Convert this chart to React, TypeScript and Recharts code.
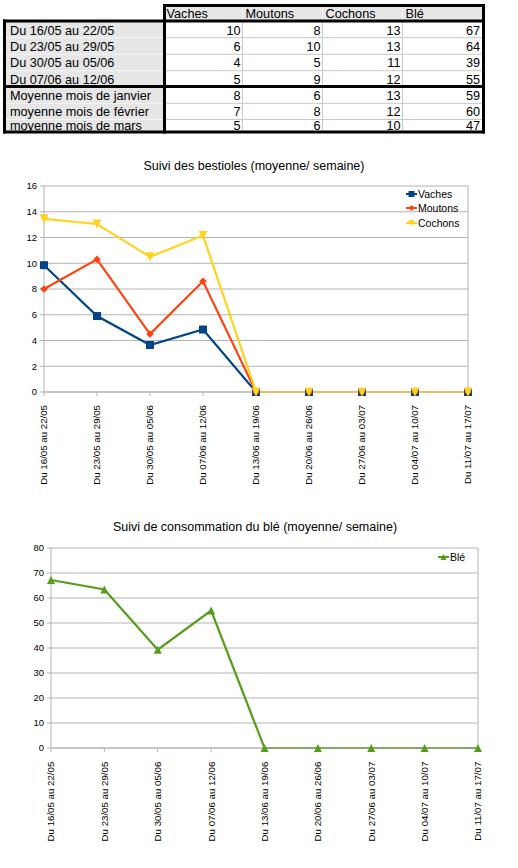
import React from "react";
import { LineChart, Line, XAxis, YAxis, CartesianGrid, Legend, ReferenceLine } from "recharts";

const FONT = '"Liberation Sans", Arial, sans-serif';

// ---- Table data ----
const rowLabels = [
  "Du 16/05 au 22/05",
  "Du 23/05 au 29/05",
  "Du 30/05 au 05/06",
  "Du 07/06 au 12/06",
  "Moyenne mois de janvier",
  "moyenne mois de février",
  "moyenne mois de mars",
];
const tableHeaders = ["Vaches", "Moutons", "Cochons", "Blé"];
const tableVaches = [10, 6, 4, 5, 8, 7, 5];
const tableMoutons = [8, 10, 5, 9, 6, 8, 6];
const tableCochons = [13, 13, 11, 12, 13, 12, 10];
const tableBle = [67, 64, 39, 55, 59, 60, 47];

// ---- Chart data ----
const weekLabels = [
  "Du 16/05 au 22/05",
  "Du 23/05 au 29/05",
  "Du 30/05 au 05/06",
  "Du 07/06 au 12/06",
  "Du 13/06 au 19/06",
  "Du 20/06 au 26/06",
  "Du 27/06 au 03/07",
  "Du 04/07 au 10/07",
  "Du 11/07 au 17/07",
];
const vachesSeries = [9.85, 5.9, 3.65, 4.85, 0, 0, 0, 0, 0];
const moutonsSeries = [8, 10.3, 4.5, 8.6, 0, 0, 0, 0, 0];
const cochonsSeries = [13.45, 13.05, 10.5, 12.15, 0, 0, 0, 0, 0];
const bleSeries = [67.2, 63.4, 39.3, 55, 0, 0, 0, 0, 0];
const animalTicks = [0, 2, 4, 6, 8, 10, 12, 14, 16];
const bleTicks = [0, 10, 20, 30, 40, 50, 60, 70, 80];

const animalData = weekLabels.map((w, i) => ({
  week: w,
  Vaches: vachesSeries[i],
  Moutons: moutonsSeries[i],
  Cochons: cochonsSeries[i],
}));
const bleData = weekLabels.map((w, i) => ({ week: w, "Blé": bleSeries[i] }));

const C_VACHES = "#004586";
const C_MOUTONS = "#ff420e";
const C_COCHONS = "#ffd320";
const C_BLE = "#579d1c";
const GRID = "#b3b3b3";

type Shape = "square" | "diamond" | "triDown" | "triUp";

function markerEl(shape: Shape, cx: number, cy: number, s: number, color: string) {
  switch (shape) {
    case "square":
      return <rect x={cx - s} y={cy - s} width={2 * s} height={2 * s} fill={color} />;
    case "diamond":
      return <polygon points={`${cx},${cy - s} ${cx + s},${cy} ${cx},${cy + s} ${cx - s},${cy}`} fill={color} />;
    case "triDown":
      return <polygon points={`${cx - s},${cy - s} ${cx + s},${cy - s} ${cx},${cy + s}`} fill={color} />;
    case "triUp":
    default:
      return <polygon points={`${cx - s},${cy + s} ${cx + s},${cy + s} ${cx},${cy - s}`} fill={color} />;
  }
}

const makeDot = (shape: Shape, s: number, color: string) => (props: any) => {
  const { cx, cy, index } = props;
  if (cx == null || cy == null) return <g key={`e-${index}`} />;
  return <g key={`d-${index}`}>{markerEl(shape, cx, cy, s, color)}</g>;
};

const XTick = (props: any) => {
  const { x, y, payload } = props;
  return (
    <text
      x={x}
      y={y}
      transform={`rotate(-90, ${x}, ${y})`}
      textAnchor="end"
      dy="0.35em"
      fontSize={9.7}
      fontFamily={FONT}
      fill="#000"
    >
      {payload.value}
    </text>
  );
};

type LegendItem = { name: string; color: string; shape: Shape };

const LegendBox = ({ items }: { items: LegendItem[] }) => (
  <div style={{ fontFamily: FONT, fontSize: 10.5, color: "#000" }}>
    {items.map((it) => (
      <div key={it.name} style={{ display: "flex", alignItems: "center", height: 14.5 }}>
        <svg width={11} height={10} style={{ display: "block", marginRight: 1 }}>
          <line x1={0} y1={5} x2={11} y2={5} stroke={it.color} strokeWidth={2} />
          {markerEl(it.shape, 5.5, 5, 3, it.color)}
        </svg>
        <span style={{ lineHeight: "14.5px" }}>{it.name}</span>
      </div>
    ))}
  </div>
);

const animalLegend: LegendItem[] = [
  { name: "Vaches", color: C_VACHES, shape: "square" },
  { name: "Moutons", color: C_MOUTONS, shape: "diamond" },
  { name: "Cochons", color: C_COCHONS, shape: "triDown" },
];
const bleLegend: LegendItem[] = [{ name: "Blé", color: C_BLE, shape: "triUp" }];

// ---- Table layout ----
const colB = [4.5, 164.5, 242.5, 322.5, 402.5, 483.5];
const rowB = [5.5, 21, 37.7, 54.3, 70.7, 86.5, 103.3, 119.5, 132];
const headerBaseline = 18.3;
const rowBaselines = [35, 51.2, 67.4, 83.5, 99.6, 115.6, 129.8];

const DataTable = () => {
  const cols = [tableVaches, tableMoutons, tableCochons, tableBle];
  const thinRows = [2, 3, 4, 6, 7];
  return (
    <svg width={518} height={140} style={{ position: "absolute", left: 0, top: 0 }}>
      <rect x={colB[1]} y={rowB[0]} width={colB[5] - colB[1]} height={rowB[1] - rowB[0]} fill="#e6e6e6" />
      <rect x={colB[0]} y={rowB[1]} width={colB[1] - colB[0]} height={rowB[8] - rowB[1]} fill="#e6e6e6" />
      {thinRows.map((r) => (
        <g key={`hr-${r}`}>
          <line x1={colB[0]} x2={colB[1]} y1={rowB[r]} y2={rowB[r]} stroke="#f6f6f6" strokeWidth={1} />
          <line x1={colB[1]} x2={colB[5]} y1={rowB[r]} y2={rowB[r]} stroke="#c8c8c8" strokeWidth={1} />
        </g>
      ))}
      {[2, 3, 4].map((c) => (
        <g key={`vc-${c}`}>
          <line x1={colB[c]} x2={colB[c]} y1={rowB[0]} y2={rowB[1]} stroke="#f6f6f6" strokeWidth={1} />
          <line x1={colB[c]} x2={colB[c]} y1={rowB[1]} y2={rowB[8]} stroke="#c8c8c8" strokeWidth={1} />
        </g>
      ))}
      {/* header text */}
      {tableHeaders.map((h, i) => (
        <text key={h} x={colB[i + 1] + (i === 0 ? 2 : 3)} y={headerBaseline} fontFamily={FONT} fontSize={12.7} fill="#000">
          {h}
        </text>
      ))}
      {rowLabels.map((l, r) => (
        <text key={l} x={10} y={rowBaselines[r]} fontFamily={FONT} fontSize={12.7} fill="#000">
          {l}
        </text>
      ))}
      {cols.map((col, c) =>
        col.map((v, r) => (
          <text
            key={`${c}-${r}`}
            x={colB[c + 2] - (c === 3 ? 3.5 : 2)}
            y={rowBaselines[r]}
            textAnchor="end"
            fontFamily={FONT}
            fontSize={12.7}
            fill="#000"
          >
            {v}
          </text>
        ))
      )}
      {/* thick borders */}
      <line x1={colB[1] - 1.5} x2={colB[5] + 1.5} y1={rowB[0]} y2={rowB[0]} stroke="#000" strokeWidth={3} />
      {[1, 5, 8].map((r) => (
        <line key={`th-${r}`} x1={colB[0] - 1.5} x2={colB[5] + 1.5} y1={rowB[r]} y2={rowB[r]} stroke="#000" strokeWidth={3} />
      ))}
      <line x1={colB[0]} x2={colB[0]} y1={rowB[1] - 1.5} y2={rowB[8] + 1.5} stroke="#000" strokeWidth={3} />
      <line x1={colB[1]} x2={colB[1]} y1={rowB[0] - 1.5} y2={rowB[8] + 1.5} stroke="#000" strokeWidth={3} />
      <line x1={colB[5]} x2={colB[5]} y1={rowB[0] - 1.5} y2={rowB[8] + 1.5} stroke="#000" strokeWidth={3} />
    </svg>
  );
};

const titleStyle = (top: number, cx: number): React.CSSProperties => ({
  position: "absolute",
  left: cx - 200,
  width: 400,
  top,
  textAlign: "center",
  fontFamily: FONT,
  fontSize: 12.5,
  lineHeight: "15px",
  color: "#000",
  whiteSpace: "nowrap",
});

export default function App() {
  return (
    <div style={{ position: "absolute", left: 0, top: 0, width: 518, height: 868, background: "#fff" }}>
      <DataTable />

      <div style={titleStyle(158.5, 254)}>Suivi des bestioles (moyenne/ semaine)</div>
      <div style={{ position: "absolute", left: 0, top: 150 }}>
        <LineChart width={518} height={350} data={animalData} margin={{ top: 36, right: 50, bottom: 8, left: 4 }}>
          <CartesianGrid vertical={false} stroke={GRID} strokeWidth={1} />
          <XAxis
            dataKey="week"
            scale="point"
            padding={{ left: 0, right: 0 }}
            interval={0}
            height={100}
            tick={<XTick />}
            tickSize={4}
            tickMargin={9}
            axisLine={{ stroke: GRID }}
            tickLine={{ stroke: GRID }}
          />
          <YAxis
            type="number"
            domain={[0, 16]}
            ticks={animalTicks}
            width={40}
            tickSize={4}
            tickMargin={3}
            tick={{ fontSize: 9.5, fontFamily: FONT, fill: "#000" }}
            axisLine={{ stroke: GRID }}
            tickLine={{ stroke: GRID }}
          />
          <ReferenceLine x={weekLabels[weekLabels.length - 1]} stroke={GRID} />
          <Legend
            layout="vertical"
            align="center"
            verticalAlign="middle"
            content={() => <LegendBox items={animalLegend} />}
            wrapperStyle={{ left: 406, top: 36.5, width: 80 }}
          />
          <Line dataKey="Vaches" stroke={C_VACHES} strokeWidth={2.2} isAnimationActive={false} dot={makeDot("square", 4, C_VACHES)} activeDot={false} />
          <Line dataKey="Moutons" stroke={C_MOUTONS} strokeWidth={2.2} isAnimationActive={false} dot={makeDot("diamond", 3.8, C_MOUTONS)} activeDot={false} />
          <Line dataKey="Cochons" stroke={C_COCHONS} strokeWidth={2.2} isAnimationActive={false} dot={makeDot("triDown", 4.5, C_COCHONS)} activeDot={false} />
        </LineChart>
      </div>

      <div style={titleStyle(519.5, 255)}>Suivi de consommation du blé (moyenne/ semaine)</div>
      <div style={{ position: "absolute", left: 0, top: 510 }}>
        <LineChart width={518} height={358} data={bleData} margin={{ top: 38, right: 40, bottom: 20, left: 5 }}>
          <CartesianGrid vertical={false} stroke={GRID} strokeWidth={1} />
          <XAxis
            dataKey="week"
            scale="point"
            padding={{ left: 0, right: 0 }}
            interval={0}
            height={100}
            tick={<XTick />}
            tickSize={4}
            tickMargin={9.7}
            axisLine={{ stroke: GRID }}
            tickLine={{ stroke: GRID }}
          />
          <YAxis
            type="number"
            domain={[0, 80]}
            ticks={bleTicks}
            width={46}
            tickSize={4}
            tickMargin={3}
            tick={{ fontSize: 9.5, fontFamily: FONT, fill: "#000" }}
            axisLine={{ stroke: GRID }}
            tickLine={{ stroke: GRID }}
          />
          <ReferenceLine x={weekLabels[weekLabels.length - 1]} stroke={GRID} />
          <Legend
            layout="vertical"
            align="center"
            verticalAlign="middle"
            content={() => <LegendBox items={bleLegend} />}
            wrapperStyle={{ left: 438, top: 39.5, width: 60 }}
          />
          <Line dataKey="Blé" stroke={C_BLE} strokeWidth={2.2} isAnimationActive={false} dot={makeDot("triUp", 4, C_BLE)} activeDot={false} />
        </LineChart>
      </div>
    </div>
  );
}
